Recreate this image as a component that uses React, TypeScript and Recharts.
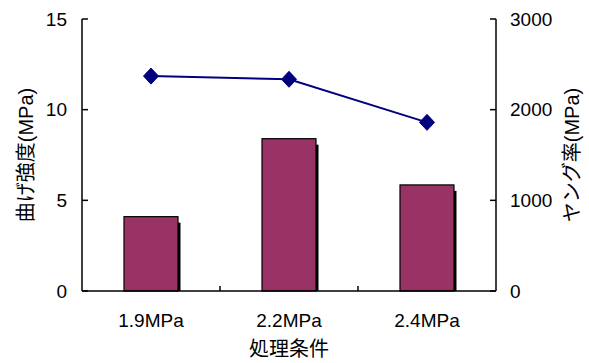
import React from "react";
import {
  Bar,
  ComposedChart,
  Line,
  XAxis,
  YAxis,
} from "recharts";

const categories = ["1.9MPa", "2.2MPa", "2.4MPa"];
const bendingStrength = [4.1, 8.4, 5.85]; // 曲げ強度 (MPa)
const youngModulus = [2370, 2335, 1860]; // ヤング率 (MPa)
const leftTicks = [0, 5, 10, 15];
const rightTicks = [0, 1000, 2000, 3000];

const rows = categories.map((name, i) => ({
  name,
  strength: bendingStrength[i],
  modulus: youngModulus[i],
}));

const FONT = "'Liberation Sans', Arial, 'Noto Sans CJK JP', sans-serif";
const BAR_FILL = "#993366";
const LINE_COLOR = "#000080";
const AXIS = { stroke: "#000", strokeWidth: 1.5 };
const TICK_FONT = 19;
const MARK = 6;

const X_MARGIN = 23;
const L_MARGIN = 15;
const R_MARGIN = 14;

// category labels, plus short inward marks on the boundaries between bands
function CategoryTick(props: any) {
  const { x, y, payload, index, visibleTicksCount, width } = props;
  const axisY = y - X_MARGIN;
  const band = width && visibleTicksCount ? width / visibleTicksCount : 0;
  const showMark = band > 0 && index < visibleTicksCount - 1;
  return (
    <g>
      {showMark && (
        <line
          x1={x + band / 2}
          x2={x + band / 2}
          y1={axisY}
          y2={axisY - 5}
          {...AXIS}
        />
      )}
      <text x={x} y={y} dy="0.71em" textAnchor="middle" fill="#000" fontSize={TICK_FONT}>
        {payload.value}
      </text>
    </g>
  );
}

// value labels outside, tick marks pointing into the plot
function LeftTick(props: any) {
  const { x, y, payload } = props;
  const axisX = x + L_MARGIN;
  return (
    <g>
      <line x1={axisX} x2={axisX + MARK} y1={y} y2={y} {...AXIS} />
      <text x={x} y={y} dy="0.355em" textAnchor="end" fill="#000" fontSize={TICK_FONT}>
        {payload.value}
      </text>
    </g>
  );
}

function RightTick(props: any) {
  const { x, y, payload } = props;
  const axisX = x - R_MARGIN;
  return (
    <g>
      <line x1={axisX} x2={axisX - MARK} y1={y} y2={y} {...AXIS} />
      <text x={x} y={y} dy="0.355em" textAnchor="start" fill="#000" fontSize={TICK_FONT}>
        {payload.value}
      </text>
    </g>
  );
}

function ShadowBar(props: any) {
  const { x, y, width, height } = props;
  if (!height || height <= 0) return <g />;
  return (
    <g>
      <rect x={x + 2.5} y={y + 6} width={width} height={height - 6} fill="#000" />
      <rect
        x={x}
        y={y}
        width={width}
        height={height}
        fill={BAR_FILL}
        stroke="#000"
        strokeWidth={1.2}
      />
    </g>
  );
}

function DiamondDot(props: any) {
  const { cx, cy, index } = props;
  const w = 7.5;
  const h = 8;
  return (
    <path
      key={`dot-${index}`}
      d={`M${cx},${cy - h}L${cx + w},${cy}L${cx},${cy + h}L${cx - w},${cy}Z`}
      fill={LINE_COLOR}
      stroke={LINE_COLOR}
      strokeWidth={1}
    />
  );
}

export default function App() {
  return (
    <div style={{ position: "absolute", left: 0, top: 0, fontFamily: FONT }}>
      <ComposedChart
        width={589}
        height={363}
        data={rows}
        margin={{ top: 19, right: 0, bottom: 0, left: 0 }}
      >
        <XAxis
          dataKey="name"
          height={72}
          axisLine={AXIS}
          tickLine={false}
          tickSize={0}
          tickMargin={X_MARGIN}
          tick={CategoryTick}
          interval={0}
          label={{
            value: "処理条件",
            position: "insideBottom",
            offset: 7,
            fill: "#000",
            fontSize: 20,
          }}
        />
        <YAxis
          yAxisId="left"
          domain={[0, 15]}
          ticks={leftTicks}
          width={82}
          axisLine={AXIS}
          tickLine={false}
          tickSize={0}
          tickMargin={L_MARGIN}
          tick={LeftTick}
          label={{
            value: "曲げ強度(MPa)",
            angle: -90,
            position: "center",
            dx: -15,
            fill: "#000",
            fontSize: 20,
          }}
        />
        <YAxis
          yAxisId="right"
          orientation="right"
          domain={[0, 3000]}
          ticks={rightTicks}
          width={93}
          axisLine={AXIS}
          tickLine={false}
          tickSize={0}
          tickMargin={R_MARGIN}
          tick={RightTick}
          label={{
            value: "ヤング率(MPa)",
            angle: -90,
            position: "center",
            dx: 29,
            fill: "#000",
            fontSize: 20,
          }}
        />
        <Bar
          yAxisId="left"
          dataKey="strength"
          barSize={54}
          shape={ShadowBar}
          isAnimationActive={false}
        />
        <Line
          yAxisId="right"
          dataKey="modulus"
          stroke={LINE_COLOR}
          strokeWidth={2}
          dot={DiamondDot}
          activeDot={false}
          isAnimationActive={false}
        />
      </ComposedChart>
    </div>
  );
}
